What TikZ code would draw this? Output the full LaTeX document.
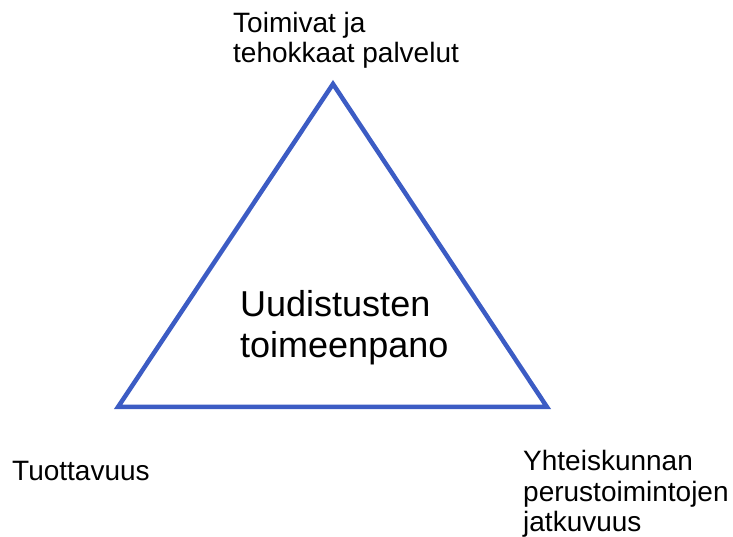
\documentclass[tikz,border=0pt]{standalone}
\usepackage{fontspec}
\setmainfont{Liberation Sans}
\usepackage{xcolor}
\usepackage{tikz}
\definecolor{edge}{HTML}{3C5CC4}
\definecolor{ink}{HTML}{000000}
\tikzset{
  tri/.style={draw=edge, line width=4.5pt, line join=miter},
  lab/.style={text=ink, inner sep=0pt, anchor=base west, align=left,
    font=\fontsize{28}{30.5}\selectfont},
  labc/.style={text=ink, inner sep=0pt, anchor=base west, align=left,
    font=\fontsize{36}{41.5}\selectfont},
}
\begin{document}
\begin{tikzpicture}[x=1pt,y=1pt]
  \useasboundingbox (0,0) rectangle (733,537);
  \coordinate (T) at (333,453);
  \coordinate (L) at (118,130);
  \coordinate (R) at (547,130);
  \draw[tri] (T)--(R)--(L)--cycle;
  % base anchor sits on the last line
  \node[lab] (top) at (233,474) {Toimivat ja\\tehokkaat palvelut};
  \node[lab] (left) at (12,56) {Tuottavuus};
  \node[lab] (right) at (523,5) {Yhteiskunnan\\perustoimintojen\\jatkuvuus};
  \node[labc] (mid) at (240,179) {Uudistusten\\toimeenpano};
\end{tikzpicture}
\end{document}
